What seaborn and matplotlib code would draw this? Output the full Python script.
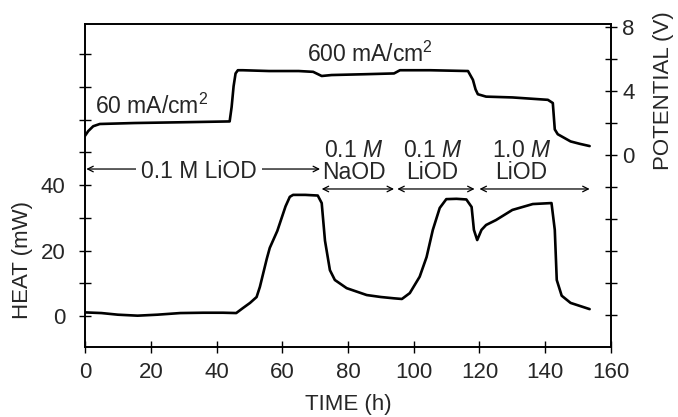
import matplotlib
matplotlib.use("Agg")
import matplotlib.pyplot as plt
import seaborn as sns
import pandas as pd

# Heat output of the cell (mW) vs. time (h)
heat_time = [0, 5, 10, 16, 22, 29, 36, 42, 46, 48, 50.2, 52.2, 53.2, 55.3, 56.2, 58.5,
             61.0, 62.3, 63.3, 67, 70.8, 72, 73, 74.5, 76, 79.6, 85.7, 90, 94, 96.4,
             98.8, 101.8, 103.9, 105.8, 107.9, 109.9, 113, 116, 117.6, 118.3, 119.3,
             120.6, 122, 125, 130, 136.2, 141.9, 142.9, 143.5, 145, 147.7, 153.5]
heat_mw = [1.1, 0.9, 0.4, 0.1, 0.4, 0.9, 1.0, 1.0, 0.9, 2.4, 4.0, 5.8, 8.9, 17.5, 20.8, 26.0,
           33.5, 36.4, 37.0, 37.0, 36.8, 34.5, 23.0, 14.0, 11.0, 8.5, 6.4, 5.8, 5.4, 5.2,
           7.0, 12.0, 18.0, 26.3, 33.0, 35.7, 35.8, 35.6, 33.3, 26.3, 23.2,
           26.3, 27.8, 29.3, 32.4, 34.2, 34.5, 26.3, 11.0, 6.2, 4.0, 2.1]

# Cell potential (V) vs. time (h)
pot_time = [0, 1, 2.5, 4.5, 15, 30, 44, 44.6, 45.2, 45.8, 46.5, 48, 56, 65, 69.4, 72,
            75, 85, 94, 95.8, 105, 116.5, 118, 118.8, 119.5, 122, 130, 140.8, 142.3,
            142.9, 143.8, 147.7, 150.5, 153.5]
pot_v = [1.2, 1.5, 1.8, 1.94, 2.0, 2.05, 2.1, 3.0, 4.3, 5.1, 5.3, 5.3, 5.25, 5.25, 5.2, 4.94,
         5.0, 5.05, 5.1, 5.3, 5.3, 5.25, 4.7, 4.1, 3.8, 3.65, 3.6, 3.45, 3.25,
         1.6, 1.3, 0.85, 0.7, 0.56]

x_ticks = [0, 20, 40, 60, 80, 100, 120, 140, 160]
heat_ticks = [0, 20, 40]
pot_ticks = [0, 4, 8]

# Electrolyte periods: label, centre time, arrow start, arrow end
period_labels = ["0.1 $\\it{M}$\nNaOD", "0.1 $\\it{M}$\nLiOD", "1.0 $\\it{M}$\nLiOD"]
period_centers = [81.8, 105.6, 132.8]
period_starts = [72, 95, 120]
period_ends = [94, 118.5, 153.5]

sns.set_theme(style="ticks")
plt.rcParams["font.family"] = ["Liberation Sans", "DejaVu Sans"]
plt.rcParams["mathtext.fontset"] = "custom"
plt.rcParams["mathtext.rm"] = "Liberation Sans"
plt.rcParams["mathtext.it"] = "Liberation Sans:italic"
plt.rcParams["axes.linewidth"] = 1.2

FS = 16     # tick and axis labels
AFS = 16.5  # in-plot annotations

fig = plt.figure(figsize=(6.78, 4.17), dpi=100)
ax = fig.add_axes([85 / 678, 1 - 347 / 417, (611 - 85) / 678, (347 - 24) / 417])
ax2 = ax.twinx()

heat_df = pd.DataFrame({"time": heat_time, "heat": heat_mw})
pot_df = pd.DataFrame({"time": pot_time, "pot": pot_v})

sns.lineplot(data=heat_df, x="time", y="heat", ax=ax, color="black", lw=1.9,
             sort=False, estimator=None)
sns.lineplot(data=pot_df, x="time", y="pot", ax=ax2, color="black", lw=1.9,
             sort=False, estimator=None)

ax.set_xlim(0, 160)
ax.set_ylim(-9.47, 89.2)
ax2.set_ylim(-12.0, 8.19)

ax.set_xticks(x_ticks)
ax.set_xticklabels([str(v) for v in x_ticks], fontsize=FS)
ax.set_yticks(heat_ticks)
ax.set_yticklabels([str(v) for v in heat_ticks], fontsize=FS)
ax.set_yticks([10, 30, 50, 60, 70, 80], minor=True)
ax2.set_yticks(pot_ticks)
ax2.set_yticklabels([str(v) for v in pot_ticks], fontsize=FS)
ax2.set_yticks([-10, -8, -6, -4, -2, 2, 6], minor=True)

for a in (ax, ax2):
    a.tick_params(which="both", direction="inout", length=8, width=1.0, color="black")
    for s in a.spines.values():
        s.set_visible(True)
        s.set_color("black")
        s.set_linewidth(1.2)
ax.tick_params(axis="x", pad=7)
ax.tick_params(axis="y", pad=10)
ax2.tick_params(axis="y", pad=4)

ax.set_xlabel("TIME (h)", fontsize=FS, labelpad=8)
ax.set_ylabel("HEAT (mW)", fontsize=FS)
ax.yaxis.set_label_coords(-0.099, 0.27)
ax2.set_ylabel("POTENTIAL (V)", fontsize=FS, rotation=90)
ax2.yaxis.set_label_coords(1.080, 0.795)

# Current density labels
ax.text(3, 61.7, r"60 mA/cm$^2$", fontsize=AFS, ha="left", va="baseline")
ax.text(86.7, 77.6, r"600 mA/cm$^2$", fontsize=AFS, ha="center", va="baseline")

# Electrolyte periods
arrow_kw = dict(arrowstyle="<->", color="black", lw=0.9, shrinkA=0, shrinkB=0,
                mutation_scale=10)
ax.annotate("", xy=(0.4, 44.9), xytext=(71.5, 44.9), arrowprops=arrow_kw)
ax.text(34.7, 42.1, "0.1 M LiOD", fontsize=AFS, ha="center", va="baseline",
        bbox=dict(facecolor="white", edgecolor="none", pad=4))
for lab, xc, x0, x1 in zip(period_labels, period_centers, period_starts, period_ends):
    ax.annotate("", xy=(x0, 38.8), xytext=(x1, 38.8), arrowprops=arrow_kw)
    ax.text(xc, 40.4, lab, fontsize=AFS, ha="center", va="bottom",
            multialignment="center", linespacing=0.92)

fig.savefig("out.png", dpi=100)
